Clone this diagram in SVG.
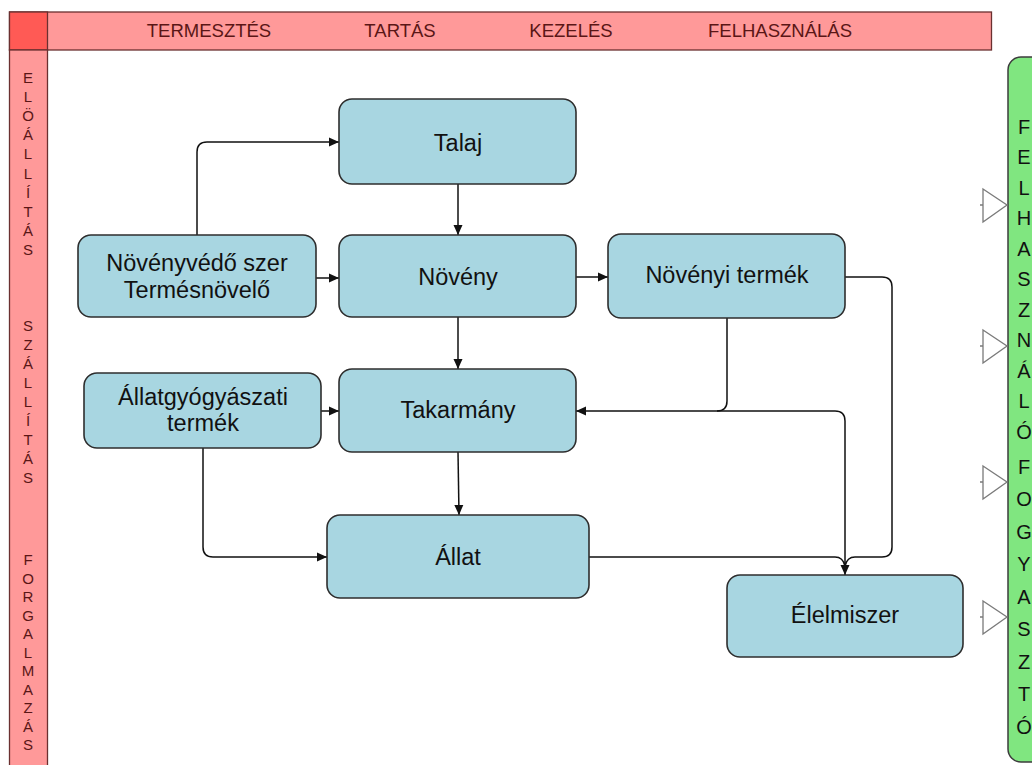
<svg xmlns="http://www.w3.org/2000/svg" width="1032" height="765" viewBox="0 0 1032 765">
<style>
.node rect{fill:#a8d6e1;stroke:#2e2e2e;stroke-width:1.6}
.node text{font-family:"Liberation Sans",Arial,sans-serif;font-size:23.5px;fill:#111;text-anchor:middle}
.conn path{fill:none;stroke:#111;stroke-width:1.5}
.hdr{font-family:"Liberation Sans",Arial,sans-serif;font-size:18.5px;fill:#5a1616;text-anchor:middle}
.lv{font-family:"Liberation Sans",Arial,sans-serif;font-size:15px;fill:#5a1616;text-anchor:middle}
.rv{font-family:"Liberation Sans",Arial,sans-serif;font-size:20px;fill:#111;text-anchor:middle}
.tri{fill:#fff;stroke:#7a7a7a;stroke-width:1.3}
</style>
<defs>
<marker id="ah" viewBox="0 0 10 10" refX="10" refY="5" markerWidth="10" markerHeight="10" markerUnits="userSpaceOnUse" orient="auto">
<path d="M0,0.5 L10,5 L0,9.5 Z" fill="#111"/>
</marker>
</defs>
<rect width="1032" height="765" fill="#fff"/>
<g id="header">
<rect x="9.5" y="12" width="982" height="38" fill="#ff9999" stroke="#6a3030" stroke-width="1.3"/>
<rect x="9.5" y="12" width="38" height="38" fill="#ff5a55" stroke="#6a3030" stroke-width="1.3"/>
<text class="hdr" x="209" y="37">TERMESZTÉS</text>
<text class="hdr" x="400" y="37">TARTÁS</text>
<text class="hdr" x="571" y="37">KEZELÉS</text>
<text class="hdr" x="780" y="37">FELHASZNÁLÁS</text>
</g>
<g id="leftbar">
<rect x="9.5" y="50" width="38" height="720" fill="#ff9999" stroke="#6a3030" stroke-width="1.3"/>
<text class="lv" x="28" y="83">E</text>
<text class="lv" x="28" y="102">L</text>
<text class="lv" x="28" y="121">Ö</text>
<text class="lv" x="28" y="140">Á</text>
<text class="lv" x="28" y="159">L</text>
<text class="lv" x="28" y="179">L</text>
<text class="lv" x="28" y="198">Í</text>
<text class="lv" x="28" y="217">T</text>
<text class="lv" x="28" y="236">Á</text>
<text class="lv" x="28" y="255">S</text>
<text class="lv" x="28" y="331">S</text>
<text class="lv" x="28" y="350">Z</text>
<text class="lv" x="28" y="369">Á</text>
<text class="lv" x="28" y="388">L</text>
<text class="lv" x="28" y="407">L</text>
<text class="lv" x="28" y="426">Í</text>
<text class="lv" x="28" y="445">T</text>
<text class="lv" x="28" y="464">Á</text>
<text class="lv" x="28" y="483">S</text>
<text class="lv" x="28" y="565">F</text>
<text class="lv" x="28" y="584">O</text>
<text class="lv" x="28" y="602">R</text>
<text class="lv" x="28" y="621">G</text>
<text class="lv" x="28" y="639">A</text>
<text class="lv" x="28" y="658">L</text>
<text class="lv" x="28" y="676">M</text>
<text class="lv" x="28" y="695">A</text>
<text class="lv" x="28" y="713">Z</text>
<text class="lv" x="28" y="732">Á</text>
<text class="lv" x="28" y="750">S</text>
</g>
<g id="rightbar">
<rect x="1008" y="57" width="40" height="705" rx="13" fill="#80e680" stroke="#3c3c3c" stroke-width="1.5"/>
<text class="rv" x="1024" y="134">F</text>
<text class="rv" x="1024" y="164">E</text>
<text class="rv" x="1024" y="195">L</text>
<text class="rv" x="1024" y="225">H</text>
<text class="rv" x="1024" y="256">A</text>
<text class="rv" x="1024" y="286">S</text>
<text class="rv" x="1024" y="317">Z</text>
<text class="rv" x="1024" y="347">N</text>
<text class="rv" x="1024" y="378">Á</text>
<text class="rv" x="1024" y="408">L</text>
<text class="rv" x="1024" y="439">Ó</text>
<text class="rv" x="1024" y="474">F</text>
<text class="rv" x="1024" y="506">O</text>
<text class="rv" x="1024" y="539">G</text>
<text class="rv" x="1024" y="571">Y</text>
<text class="rv" x="1024" y="604">A</text>
<text class="rv" x="1024" y="636">S</text>
<text class="rv" x="1024" y="669">Z</text>
<text class="rv" x="1024" y="701">T</text>
<text class="rv" x="1024" y="734">Ó</text>
</g>
<g id="ports">
<path class="tri" d="M983,189 L1007,205 L983,222 Z M980,205 H983"/>
<path class="tri" d="M983,330 L1007,346 L983,363 Z M980,346 H983"/>
<path class="tri" d="M983,466 L1007,482 L983,499 Z M980,482 H983"/>
<path class="tri" d="M983,601 L1007,617 L983,634 Z M980,617 H983"/>
</g>
<g id="connectors" class="conn">
<path d="M197,235 V152 Q197,142 207,142 H339" marker-end="url(#ah)"/>
<path d="M458,184 V235" marker-end="url(#ah)"/>
<path d="M316,278 H339" marker-end="url(#ah)"/>
<path d="M576,277 H608" marker-end="url(#ah)"/>
<path d="M458,317 V369" marker-end="url(#ah)"/>
<path d="M321,411 H339" marker-end="url(#ah)"/>
<path d="M727,318 V401 Q727,411 717,411 H576" marker-end="url(#ah)"/>
<path d="M717,411 H835 Q845,411 845,421 V575" marker-end="url(#ah)"/>
<path d="M845,277 H882 Q892,277 892,287 V547 Q892,557 882,557 H855 Q847,557 845,566"/>
<path d="M589,557 H835 Q843,557 845,566"/>
<path d="M458,452 L459,515" marker-end="url(#ah)"/>
<path d="M203,448 V547 Q203,557 213,557 H327" marker-end="url(#ah)"/>
</g>
<g id="n-talaj" class="node">
<rect x="339" y="99" width="237" height="85" rx="13"/>
<text x="458" y="151">Talaj</text>
</g>
<g id="n-novenyvedo" class="node">
<rect x="78" y="235" width="238" height="82" rx="13"/>
<text x="197" y="271">Növényvédő szer</text>
<text x="197" y="298">Termésnövelő</text>
</g>
<g id="n-noveny" class="node">
<rect x="339" y="235" width="237" height="82" rx="13"/>
<text x="458" y="285">Növény</text>
</g>
<g id="n-novenyi-termek" class="node">
<rect x="608" y="234" width="237" height="84" rx="13"/>
<text x="727" y="283">Növényi termék</text>
</g>
<g id="n-allatgyogy" class="node">
<rect x="84" y="373" width="237" height="75" rx="13"/>
<text x="203" y="405">Állatgyógyászati</text>
<text x="203" y="431">termék</text>
</g>
<g id="n-takarmany" class="node">
<rect x="339" y="369" width="237" height="83" rx="13"/>
<text x="458" y="418">Takarmány</text>
</g>
<g id="n-allat" class="node">
<rect x="327" y="515" width="262" height="83" rx="13"/>
<text x="458" y="565">Állat</text>
</g>
<g id="n-elelmiszer" class="node">
<rect x="727" y="575" width="236" height="82" rx="13"/>
<text x="845" y="623">Élelmiszer</text>
</g>
</svg>
